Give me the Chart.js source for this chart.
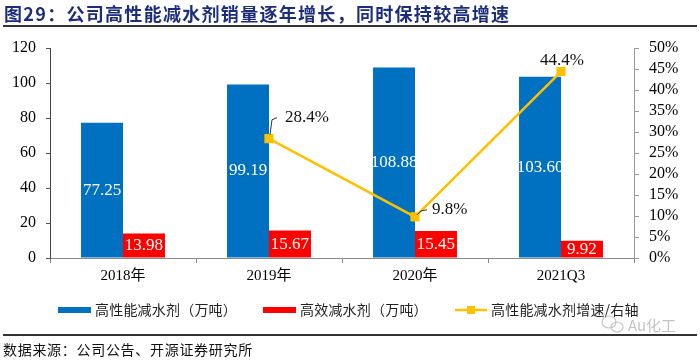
<!DOCTYPE html>
<html>
<head>
<meta charset="utf-8">
<script src="https://cdn.jsdelivr.net/npm/chart.js@4/dist/chart.umd.min.js"></script>
<style>
html,body{margin:0;padding:0;background:#fff;}
#wrap{width:700px;height:360px;position:relative;}
</style>
</head>
<body>
<div id="wrap"><canvas id="c" width="700" height="360"></canvas></div>
<script>
const categories = ['2018年', '2019年', '2020年', '2021Q3'];
const highPerf = [77.25, 99.19, 108.88, 103.60];
const highEff = [13.98, 15.67, 15.45, 9.92];
const growth = [null, 28.4, 9.8, 44.4];
const leftTicks = [0, 20, 40, 60, 80, 100, 120];
const rightTicks = [0, 5, 10, 15, 20, 25, 30, 35, 40, 45, 50];

const titleText = '图29：公司高性能减水剂销量逐年增长，同时保持较高增速';
const sourceText = '数据来源：公司公告、开源证券研究所';
const seriesNames = ['高性能减水剂（万吨）', '高效减水剂（万吨）', '高性能减水剂增速/右轴'];

const BLUE = '#0070C0', RED = '#FF0000', YELLOW = '#FFC000';
const SERIF = '"Liberation Serif", "Times New Roman", "Noto Sans CJK SC", serif';
const CJK = '"Noto Sans CJK SC", sans-serif';

const decor = {
  id: 'decor',
  beforeDraw(chart) {
    const c = chart.ctx;
    c.save();
    c.fillStyle = '#fff';
    c.fillRect(0, 0, chart.width, chart.height);
    c.restore();
  },
  afterDatasetsDraw(chart) {
    const c = chart.ctx;
    c.save();
    c.textAlign = 'center';
    c.textBaseline = 'middle';
    c.font = '17px ' + SERIF;
    c.fillStyle = '#fff';
    [0, 1].forEach(di => {
      const meta = chart.getDatasetMeta(di);
      const vals = chart.data.datasets[di].data;
      meta.data.forEach((el, j) => {
        const cy = (el.y + el.base) / 2;
        c.fillText(vals[j].toFixed(2), el.x, cy);
      });
    });
    const lm = chart.getDatasetMeta(2);
    c.fillStyle = '#111';
    c.strokeStyle = '#333';
    c.lineWidth = 1;
    lm.data.forEach((el, j) => {
      const v = growth[j];
      if (v === null || v === undefined) return;
      const txt = v.toFixed(1) + '%';
      if (j === categories.length - 1) {
        c.textAlign = 'center';
        c.fillText(txt, el.x + 1, el.y - 11);
      } else if (j === 1) {
        c.beginPath();
        c.moveTo(el.x + 1, el.y - 4);
        c.lineTo(el.x + 3, el.y - 19);
        c.lineTo(el.x + 8, el.y - 21);
        c.stroke();
        c.textAlign = 'left';
        c.fillText(txt, el.x + 16, el.y - 21);
      } else {
        c.beginPath();
        c.moveTo(el.x + 2, el.y - 2);
        c.lineTo(el.x + 6, el.y - 6);
        c.lineTo(el.x + 12, el.y - 7);
        c.stroke();
        c.textAlign = 'left';
        c.fillText(txt, el.x + 17, el.y - 7);
      }
    });
    c.restore();
  },
  afterDraw(chart) {
    const c = chart.ctx;
    c.save();
    c.fillStyle = '#1c2d7c';
    c.font = 'bold 18px ' + CJK;
    c.textAlign = 'left';
    c.textBaseline = 'middle';
    try { c.letterSpacing = '1.3px'; } catch (e) {}
    c.fillText(titleText, 4, 14);
    try { c.letterSpacing = '0px'; } catch (e) {}
    c.fillStyle = '#333';
    c.fillRect(3, 25, 694, 2);
    c.fillRect(3, 334, 694, 2);
    c.font = '14px ' + CJK;
    c.fillStyle = BLUE;
    c.fillRect(58, 307, 33, 6);
    c.fillStyle = RED;
    c.fillRect(263, 307, 33, 6);
    c.strokeStyle = YELLOW;
    c.lineWidth = 2.5;
    c.beginPath();
    c.moveTo(455, 310);
    c.lineTo(487, 310);
    c.stroke();
    c.fillStyle = YELLOW;
    c.fillRect(467, 306, 8, 8);
    c.fillStyle = '#222';
    try { c.letterSpacing = '0.2px'; } catch (e) {}
    c.fillText(seriesNames[0], 95, 310);
    c.fillText(seriesNames[1], 300, 310);
    c.fillText(seriesNames[2], 491, 310);
    try { c.letterSpacing = '0px'; } catch (e) {}
    c.fillStyle = '#c4c4c4';
    c.font = '15px ' + CJK;
    c.fillText('Au化工', 628, 325);
    c.strokeStyle = '#c4c4c4';
    c.lineWidth = 1.2;
    c.beginPath();
    c.ellipse(609, 322, 7, 6, 0, 0, Math.PI * 2);
    c.stroke();
    c.beginPath();
    c.ellipse(617, 327, 6, 5, 0, 0, Math.PI * 2);
    c.stroke();
    c.fillStyle = '#111';
    c.font = '14px ' + CJK;
    try { c.letterSpacing = '0.7px'; } catch (e) {}
    c.fillText(sourceText, 3, 350);
    try { c.letterSpacing = '0px'; } catch (e) {}
    c.restore();
  }
};

new Chart(document.getElementById('c'), {
  type: 'bar',
  data: {
    labels: categories,
    datasets: [
      { type: 'bar', label: seriesNames[0], data: highPerf, backgroundColor: BLUE, yAxisID: 'y', order: 2,
        categoryPercentage: 0.575, barPercentage: 1 },
      { type: 'bar', label: seriesNames[1], data: highEff, backgroundColor: RED, yAxisID: 'y', order: 2,
        categoryPercentage: 0.575, barPercentage: 1 },
      { type: 'line', label: seriesNames[2], data: growth, yAxisID: 'y1', order: 1,
        borderColor: YELLOW, backgroundColor: YELLOW, borderWidth: 2.5,
        pointStyle: 'rect', pointRadius: 6.5, pointBorderWidth: 0, tension: 0, spanGaps: false }
    ]
  },
  options: {
    responsive: false,
    animation: false,
    devicePixelRatio: 1,
    layout: { padding: { left: 0, right: 0, top: 48, bottom: 70 } },
    plugins: { legend: { display: false }, tooltip: { enabled: false } },
    scales: {
      x: {
        offset: true,
        grid: { drawOnChartArea: false, offset: true, tickLength: 5, color: '#888' },
        border: { color: '#888', width: 1 },
        ticks: { color: '#000', font: { family: SERIF, size: 15 }, padding: 4, maxRotation: 0 },
        afterFit(s) { s.height = 32; }
      },
      y: {
        position: 'left',
        min: 0, max: 120,
        afterBuildTicks(s) { s.ticks = leftTicks.map(v => ({ value: v })); },
        grid: { drawOnChartArea: false, tickLength: 4, color: '#555' },
        border: { color: '#444', width: 1 },
        ticks: { color: '#000', font: { family: SERIF, size: 16 }, padding: 10, autoSkip: false },
        afterFit(s) { s.width = 50; }
      },
      y1: {
        position: 'right',
        min: 0, max: 50,
        afterBuildTicks(s) { s.ticks = rightTicks.map(v => ({ value: v })); },
        grid: { drawOnChartArea: false, tickLength: 5, color: '#999' },
        border: { color: '#999', width: 1 },
        ticks: { color: '#000', font: { family: SERIF, size: 16 }, padding: 10, autoSkip: false, callback: v => v + '%' },
        afterFit(s) { s.width = 66; }
      }
    }
  },
  plugins: [decor]
});
</script>
</body>
</html>
